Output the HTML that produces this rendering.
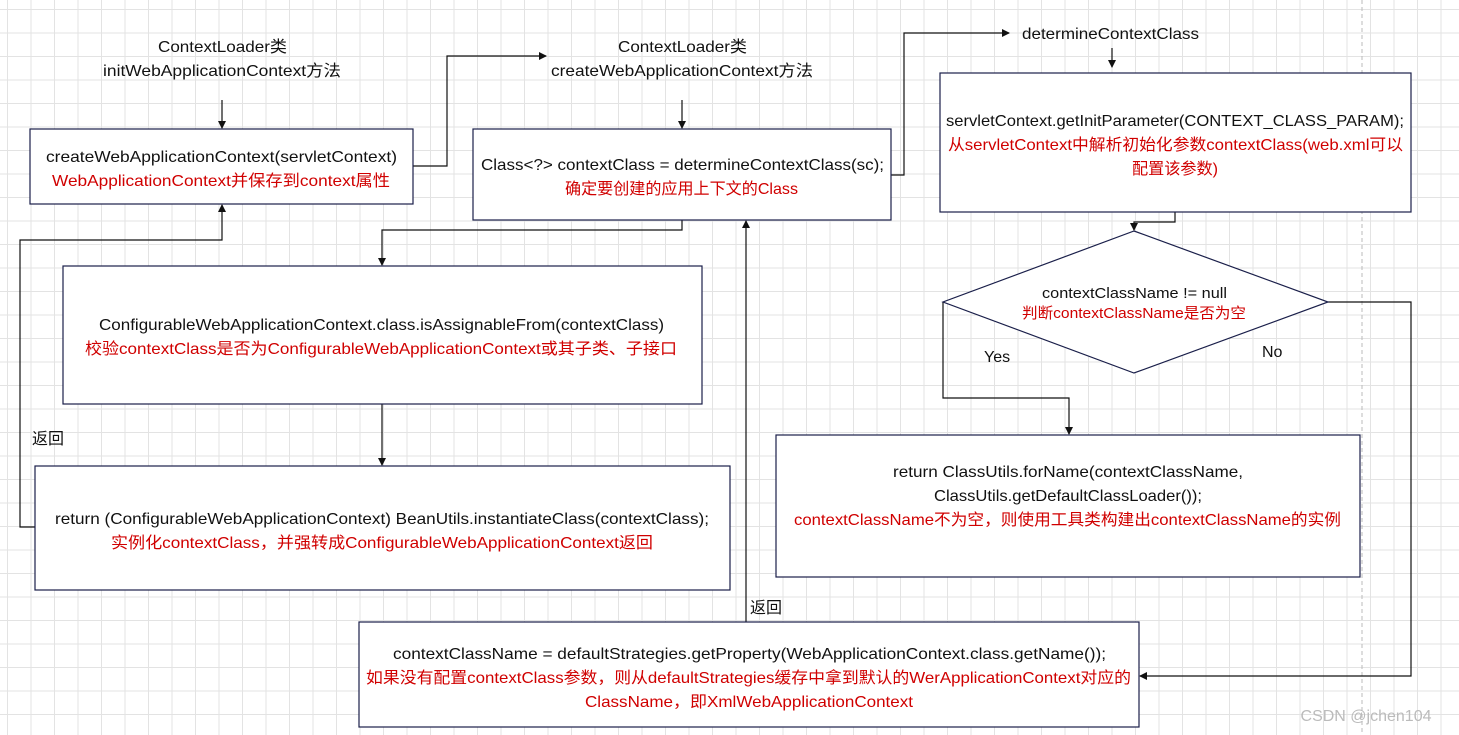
<!DOCTYPE html>
<html><head><meta charset="utf-8"><style>
body{margin:0;width:1459px;height:735px;overflow:hidden;background:#fff;
background-image:linear-gradient(#e3e3e3 1px,transparent 1px),linear-gradient(90deg,#e3e3e3 1px,transparent 1px);
background-size:23.5px 23.5px;background-position:7px 9px;}
svg{position:absolute;left:0;top:0}
text{font-family:"Liberation Sans","Noto Sans CJK SC",sans-serif;font-size:16px;fill:#111}
.r{fill:#d00000}
rect,polygon{fill:#fff;stroke:#1a1f4a;stroke-width:1.2}
.l{fill:none;stroke:#111;stroke-width:1.2}
</style></head><body>
<svg width="1459" height="735" viewBox="0 0 1459 735">
<defs><marker id="a" markerWidth="8" markerHeight="8" refX="7" refY="4" orient="auto" markerUnits="userSpaceOnUse"><path d="M0,0 L8,4 L0,8z" fill="#111"/></marker></defs>
<line x1="1362" y1="0" x2="1362" y2="735" stroke="#bbb" stroke-dasharray="4,3"/>
<g class="l" marker-end="url(#a)">
<path class="l" d="M222,100 V128"/>
<path class="l" d="M413,166 H447 V56 H546"/>
<path class="l" d="M682,100 V128"/>
<path class="l" d="M891,175 H904 V33 H1009"/>
<path class="l" d="M1112,48 V67"/>
<path class="l" d="M1175,212 V222 H1134 V230"/>
<path class="l" d="M682,220 V230 H382 V265"/>
<path class="l" d="M382,404 V465"/>
<path class="l" d="M35,527 H20 V240 H222 V205"/>
<path class="l" d="M943,302 V398 H1069 V434"/>
<path class="l" d="M1328,302 H1411 V676 H1140"/>
<path class="l" d="M746,622 V221"/>
</g>
<g lengthAdjust="spacingAndGlyphs">
<text x="158" y="52" textLength="129" lengthAdjust="spacingAndGlyphs">ContextLoader类</text>
<text x="103" y="76" textLength="238" lengthAdjust="spacingAndGlyphs">initWebApplicationContext方法</text>
<text x="618" y="52" textLength="129" lengthAdjust="spacingAndGlyphs">ContextLoader类</text>
<text x="551" y="76" textLength="262" lengthAdjust="spacingAndGlyphs">createWebApplicationContext方法</text>
<text x="1022" y="39" textLength="177" lengthAdjust="spacingAndGlyphs">determineContextClass</text>

<rect x="30" y="129" width="383" height="75"/>
<text x="46" y="162" textLength="351" lengthAdjust="spacingAndGlyphs">createWebApplicationContext(servletContext)</text>
<text class="r" x="52" y="186" textLength="338" lengthAdjust="spacingAndGlyphs">WebApplicationContext并保存到context属性</text>

<rect x="473" y="129" width="418" height="91"/>
<text x="481" y="170" textLength="403" lengthAdjust="spacingAndGlyphs">Class&lt;?&gt; contextClass = determineContextClass(sc);</text>
<text class="r" x="565" y="194" textLength="233" lengthAdjust="spacingAndGlyphs">确定要创建的应用上下文的Class</text>

<rect x="940" y="73" width="471" height="139"/>
<text x="946" y="126" textLength="458" lengthAdjust="spacingAndGlyphs">servletContext.getInitParameter(CONTEXT_CLASS_PARAM);</text>
<text class="r" x="948" y="150" textLength="455" lengthAdjust="spacingAndGlyphs">从servletContext中解析初始化参数contextClass(web.xml可以</text>
<text class="r" x="1132" y="174" textLength="86" lengthAdjust="spacingAndGlyphs">配置该参数)</text>

<polygon points="1134,231 1328,302 1134,373 943,302"/>
<text x="1042" y="298" textLength="185" lengthAdjust="spacingAndGlyphs" style="font-size:15px">contextClassName != null</text>
<text class="r" x="1022" y="318" textLength="224" lengthAdjust="spacingAndGlyphs" style="font-size:15px">判断contextClassName是否为空</text>
<text x="984" y="362">Yes</text>
<text x="1262" y="357">No</text>

<rect x="63" y="266" width="639" height="138"/>
<text x="99" y="330" textLength="565" lengthAdjust="spacingAndGlyphs">ConfigurableWebApplicationContext.class.isAssignableFrom(contextClass)</text>
<text class="r" x="85" y="354" textLength="592" lengthAdjust="spacingAndGlyphs">校验contextClass是否为ConfigurableWebApplicationContext或其子类、子接口</text>

<text x="32" y="444">返回</text>

<rect x="35" y="466" width="695" height="124"/>
<text x="55" y="524" textLength="654" lengthAdjust="spacingAndGlyphs">return (ConfigurableWebApplicationContext) BeanUtils.instantiateClass(contextClass);</text>
<text class="r" x="111" y="548" textLength="542" lengthAdjust="spacingAndGlyphs">实例化contextClass，并强转成ConfigurableWebApplicationContext返回</text>

<rect x="776" y="435" width="584" height="142"/>
<text x="893" y="477" textLength="350" lengthAdjust="spacingAndGlyphs">return ClassUtils.forName(contextClassName,</text>
<text x="934" y="501" textLength="268" lengthAdjust="spacingAndGlyphs">ClassUtils.getDefaultClassLoader());</text>
<text class="r" x="794" y="525" textLength="547" lengthAdjust="spacingAndGlyphs">contextClassName不为空，则使用工具类构建出contextClassName的实例</text>

<text x="750" y="613">返回</text>

<rect x="359" y="622" width="780" height="105"/>
<text x="393" y="659" textLength="713" lengthAdjust="spacingAndGlyphs">contextClassName = defaultStrategies.getProperty(WebApplicationContext.class.getName());</text>
<text class="r" x="366" y="683" textLength="765" lengthAdjust="spacingAndGlyphs">如果没有配置contextClass参数，则从defaultStrategies缓存中拿到默认的WerApplicationContext对应的</text>
<text class="r" x="585" y="707" textLength="328" lengthAdjust="spacingAndGlyphs">ClassName，即XmlWebApplicationContext</text>
</g>
<text x="1366" y="721" text-anchor="middle" style="fill:#bbb;font-size:16px">CSDN @jchen104</text>
</svg>
</body></html>
